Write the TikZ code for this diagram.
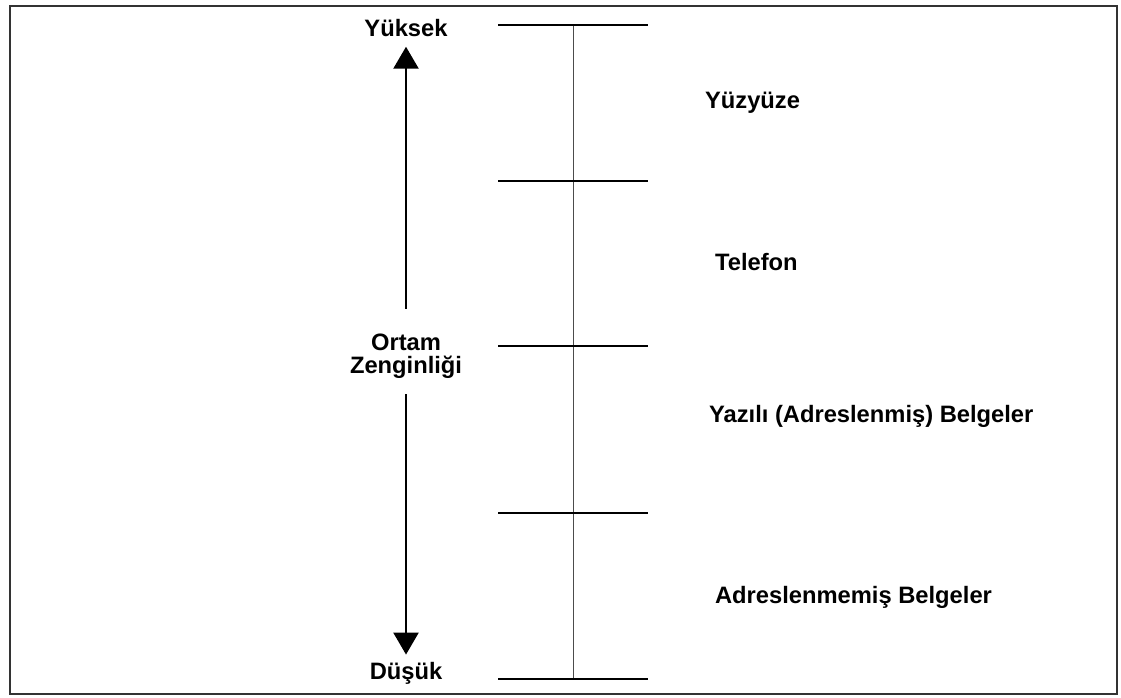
\documentclass[tikz,border=0pt]{standalone}
\usepackage{fontspec}
\setmainfont{Liberation Sans}
\usetikzlibrary{arrows.meta}

\begin{document}
\begin{tikzpicture}[x=0.02cm, y=-0.02cm, >={Triangle[width=0.5cm, length=0.44cm]},
    lbl/.style={font=\bfseries\fontsize{13.5}{13}\selectfont, inner sep=1pt},
    tick/.style={line width=1.4pt}]
  \useasboundingbox (0,0) rectangle (1121,697);

  % outer frame
  \draw[line width=1.1pt, black!80] (10,6) rectangle (1117,694);

  % scale bar and its ticks
  \coordinate (top) at (573,25);
  \coordinate (bot) at (573,679);
  \draw[line width=0.5pt, black!70] (top) -- (bot);
  \foreach \y in {25,181,346,513,679}
    \draw[tick] (498,\y) -- (648,\y);

  % richness axis
  \node[lbl] (yuksek) at (406,28) {Yüksek};
  \node[lbl, align=center] (ortam) at (406,356) {Ortam\\Zenginliği};
  \node[lbl] (dusuk) at (406,673) {Düşük};

  \draw[->, line width=1.4pt, shorten <=13pt, shorten >=4.5pt]
    (ortam.north) -- (ortam.north |- yuksek.south);
  \draw[->, line width=1.4pt, shorten <=8pt, shorten >=3pt]
    (ortam.south) -- (ortam.south |- dusuk.north);

  % media
  \node[lbl, anchor=west] (yuzyuze) at (703,103) {Yüzyüze};
  \node[lbl, anchor=west] (telefon) at (713,262) {Telefon};
  \node[lbl, anchor=west] (yazili) at (707,416) {Yazılı (Adreslenmiş) Belgeler};
  \node[lbl, anchor=west] (adressiz) at (713,597) {Adreslenmemiş Belgeler};
\end{tikzpicture}
\end{document}
